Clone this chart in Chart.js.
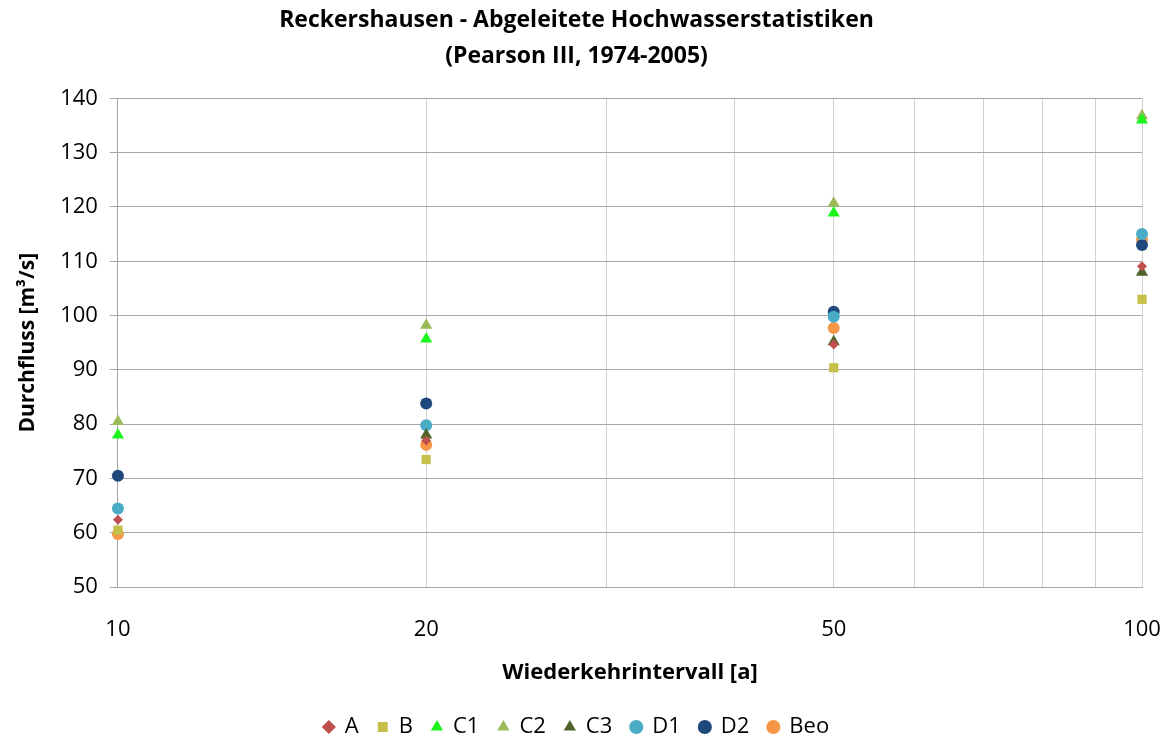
<!DOCTYPE html>
<html><head><meta charset="utf-8">
<script src="https://cdn.jsdelivr.net/npm/chart.js@4"></script>
<style>html,body{margin:0;padding:0;background:#fff}#wrap{width:1173px;height:738px}</style>
</head><body><div id="wrap"><canvas id="c" width="1173" height="738"></canvas></div>
<script>
const returnPeriods = [10, 20, 50, 100];
const tickLabels = [10, 20, 50, 100];
const seriesNames = ['A','B','C1','C2','C3','D1','D2','Beo'];
const A   = [62.4, 77.0, 94.7, 109.1];
const B   = [60.5, 73.5, 90.4, 103.0];
const C1  = [78.0, 95.7, 118.9, 136.0];
const C2  = [80.5, 98.2, 120.7, 136.8];
const C3  = [null, 78.0, 95.2, 108.0];
const D1  = [64.5, 79.8, 99.8, 115.0];
const D2  = [70.5, 83.8, 100.7, 113.0];
const Beo = [59.8, 76.2, 97.7, 114.0];
const values = [A,B,C1,C2,C3,D1,D2,Beo];
const colors = ['#C0504D','#C4C04A','#1CF51C','#9BBB59','#4F6228','#4BACC6','#1F497D','#F79646'];
const styles = ['rectRot','rect','triangle','triangle','triangle','circle','circle','circle'];
const radii = [5,6.5,7,7,7,6,6,6];

const FONT = '"Open Sans", sans-serif';
const datasets = seriesNames.map((n,i)=>({
  label:n,
  data: returnPeriods.map((x,j)=>({x:x,y:values[i][j]})).filter(p=>p.y!==null),
  pointStyle: styles[i], pointRadius: radii[i], pointHoverRadius: radii[i],
  backgroundColor: colors[i], borderColor: colors[i], borderWidth:0, showLine:false, clip:false
}));

new Chart(document.getElementById('c'), {
  type:'scatter',
  data:{datasets},
  options:{
    responsive:false, animation:false, devicePixelRatio:1,
    layout:{padding:{left:11,right:31,top:0,bottom:-10}},
    plugins:{
      title:{display:true, text:['Reckershausen - Abgeleitete Hochwasserstatistiken','(Pearson III, 1974-2005)'],
        color:'#000', font:{family:FONT, size:23, weight:'bold', lineHeight:1.55}, padding:{top:3,bottom:24}},
      legend:{position:'bottom', labels:{usePointStyle:true, boxWidth:10, boxHeight:10, color:'#000',
        font:{family:FONT, size:22}, padding:19,
        generateLabels:(chart)=>chart.data.datasets.map((d,i)=>({text:d.label, fillStyle:d.backgroundColor, strokeStyle:d.backgroundColor, lineWidth:0, pointStyle:d.pointStyle, datasetIndex:i, hidden:false}))}},
      tooltip:{enabled:false}
    },
    scales:{
      x:{type:'logarithmic', min:10, max:100,
        afterBuildTicks:(ax)=>{ax.ticks=[10,20,30,40,50,60,70,80,90,100].map(v=>({value:v}));},
        afterFit:(s)=>{s.paddingRight=0;},
        ticks:{color:'#000', font:{family:FONT, size:22}, autoSkip:false, maxRotation:0, padding:29,
          callback:(v)=> tickLabels.includes(v) ? String(v) : ''},
        grid:{color:'#D0D0D0', lineWidth:1, drawTicks:false},
        border:{color:'#A6A6A6'},
        title:{display:true, text:'Wiederkehrintervall [a]', color:'#000', font:{family:FONT, size:22, weight:'bold'}, padding:{top:-12,bottom:11}}
      },
      y:{min:50, max:140,
        ticks:{stepSize:10, color:'#000', font:{family:FONT, size:22}, padding:12},
        grid:{color:'#A6A6A6', lineWidth:1, tickLength:8, drawTicks:true},
        border:{color:'#A6A6A6'},
        title:{display:true, text:'Durchfluss [m³/s]', color:'#000', font:{family:FONT, size:21, weight:'bold'}, padding:{bottom:8}}
      }
    }
  }
});
</script></body></html>
